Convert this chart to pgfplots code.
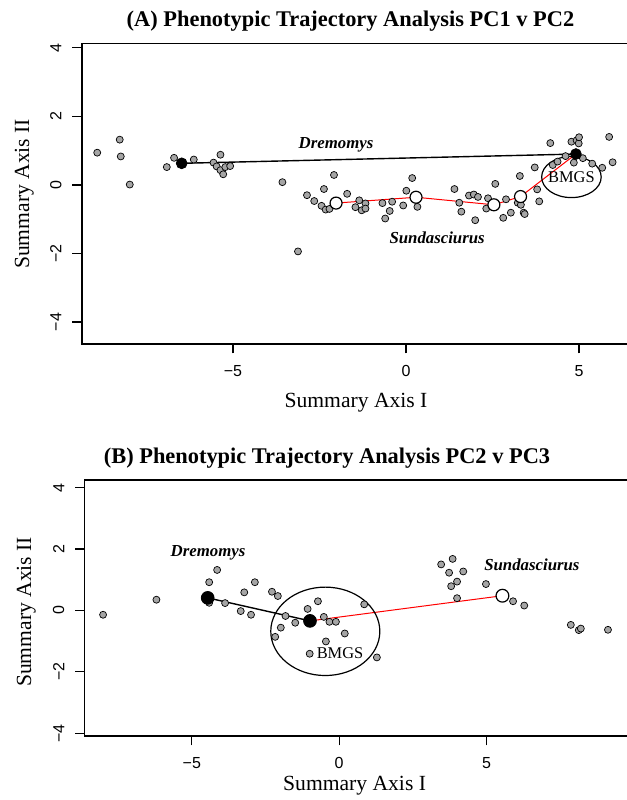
\documentclass[border=0pt]{standalone}
\usepackage{fontspec}
\setmainfont{Liberation Serif}
\setsansfont{Liberation Sans}
\usepackage{pgfplots}
\pgfplotsset{compat=1.18}
\definecolor{ptgrey}{RGB}{165,165,165}

\pgfplotsset{
  pta/.style={
    scale only axis, anchor=south west,
    tick align=outside, xtick pos=lower, ytick pos=left,
    major tick length=4.75pt,
    xtick={-5,0,5}, xticklabels={−5,0,5},
    ytick={-4,-2,0,2,4}, yticklabels={−4,−2,0,2,4},
    tick label style={font=\fontsize{8}{9}\selectfont\sffamily},
    xticklabel style={inner ysep=5.8pt},
    yticklabel style={rotate=90, anchor=south, inner ysep=5.3pt},
    axis line style={line width=0.6pt},
    every tick/.style={black, line width=0.6pt},
  },
  grp/.style={only marks, mark=*, mark size=1.75pt,
    mark options={fill=ptgrey, draw=black, line width=0.35pt}},
  blk/.style={only marks, mark=*, mark size=#1, mark options={fill=black, draw=black}},
  wht/.style={only marks, mark=*, mark size=#1, mark options={fill=white, draw=black, line width=0.6pt}},
}
\tikzset{
  spc/.style={font=\fontsize{8.4}{10}\selectfont\bfseries\itshape},
  bmgs/.style={font=\fontsize{8.2}{10}\selectfont},
}

\begin{document}
\begin{tikzpicture}
% (A) PC1 v PC2
\begin{axis}[pta, at={(41pt,228pt)}, width=274.3pt, height=150.35pt,
  xmin=-9.36, xmax=6.49, ymin=-4.64, ymax=4.13]
\addplot[grp] coordinates {
(-8.92,0.94) (-8.27,1.32) (-8.24,0.83) (-7.98,0.01) (-6.91,0.52) (-6.70,0.79)
(-6.13,0.74) (-5.56,0.65) (-5.47,0.54) (-5.36,0.88) (-5.36,0.43) (-5.28,0.31)
(-5.22,0.52) (-5.08,0.55) (-3.57,0.08) (-3.12,-1.94) (-2.86,-0.30) (-2.65,-0.47)
(-2.44,-0.61) (-2.37,-0.12) (-2.32,-0.72) (-2.21,-0.70) (-2.08,0.29) (-1.70,-0.26)
(-1.46,-0.65) (-1.35,-0.45) (-1.28,-0.74) (-1.17,-0.54) (-1.17,-0.69) (-0.68,-0.53)
(-0.60,-0.98) (-0.47,-0.76) (-0.40,-0.49) (-0.08,-0.60) (0.01,-0.17) (0.18,0.20)
(0.33,-0.64) (1.40,-0.12) (1.54,-0.52) (1.60,-0.78) (1.82,-0.31) (1.96,-0.28)
(2.00,-1.03) (2.08,-0.35) (2.37,-0.39) (2.32,-0.69) (2.58,0.03) (2.81,-0.96)
(2.89,-0.42) (3.03,-0.81) (3.23,-0.52) (3.29,0.26) (3.32,-0.58) (3.40,-0.81)
(3.43,-0.85) (3.72,0.51) (3.79,-0.13) (3.85,-0.48) (4.17,1.22) (4.24,0.58)
(4.38,0.68) (4.61,0.84) (4.78,1.26) (4.85,0.65) (4.93,1.30) (4.99,1.21)
(5.00,1.39) (5.11,0.78) (5.38,0.62) (5.67,0.50) (5.87,1.40) (5.97,0.66)
};
\addplot[black, line width=0.7pt] coordinates {(-6.48,0.63) (4.91,0.90)};
\addplot[red, line width=0.5pt] coordinates {(-2.02,-0.53) (0.29,-0.36) (2.54,-0.58) (3.31,-0.34) (4.91,0.90)};
\draw[line width=0.6pt] (axis cs:4.78,0.23) ellipse [x radius=0.86, y radius=0.60];
\addplot[blk=2.7pt] coordinates {(-6.48,0.63) (4.91,0.90)};
\addplot[wht=3pt] coordinates {(-2.02,-0.53) (0.29,-0.36) (2.54,-0.58) (3.31,-0.34)};
\node[spc] at (axis cs:-2.02,1.18) {Dremomys};
\node[spc] at (axis cs:0.90,-1.55) {Sundasciurus};
\node[bmgs] at (axis cs:4.78,0.23) {BMGS};
\end{axis}

% (B) PC2 v PC3
\begin{axis}[pta, at={(42.4pt,32pt)}, width=271.6pt, height=128pt,
  xmin=-8.63, xmax=9.80, ymin=-4.09, ymax=4.25]
\addplot[grp] coordinates {
(-8.01,-0.14) (-6.20,0.35) (-4.14,1.32) (-4.41,0.92) (-4.41,0.25) (-3.87,0.24)
(-3.34,-0.02) (-3.22,0.59) (-2.99,-0.14) (-2.86,0.92) (-2.28,0.61) (-2.08,0.47)
(-1.82,-0.18) (-1.98,-0.56) (-2.17,-0.86) (-1.49,-0.40) (-1.07,0.05) (-0.72,0.30)
(-0.52,-0.21) (-0.33,-0.37) (-0.11,-0.37) (0.19,-0.75) (-0.45,-1.01) (-1.00,-1.41)
(0.85,0.20) (1.28,-1.53)
(3.46,1.50) (3.85,1.68) (3.73,1.23) (4.21,1.27) (4.00,0.94) (3.80,0.79)
(4.00,0.40) (4.98,0.86) (5.90,0.30) (6.28,0.16) (7.86,-0.47) (8.13,-0.64)
(8.20,-0.59) (9.12,-0.63)
};
\addplot[black, line width=0.7pt] coordinates {(-4.46,0.41) (-0.99,-0.34)};
\addplot[red, line width=0.5pt] coordinates {(-0.99,-0.34) (5.54,0.48)};
\draw[line width=0.6pt] (axis cs:-0.47,-0.68) ellipse [x radius=1.85, y radius=1.44];
\addplot[blk=3.2pt] coordinates {(-4.46,0.41) (-0.99,-0.34)};
\addplot[wht=3.2pt] coordinates {(5.54,0.48)};
\node[spc] at (axis cs:-4.45,1.88) {Dremomys};
\node[spc] at (axis cs:6.54,1.50) {Sundasciurus};
\node[bmgs] at (axis cs:0.03,-1.38) {BMGS};
\end{axis}

% titles and axis labels
\node[anchor=base, font=\fontsize{11.2}{13}\selectfont\bfseries] at (175.25pt,386.5pt) {(A) Phenotypic Trajectory Analysis PC1 v PC2};
\node[anchor=base, font=\fontsize{11.2}{13}\selectfont\bfseries] at (163.5pt,168pt) {(B) Phenotypic Trajectory Analysis PC2 v PC3};
\node[anchor=base, font=\fontsize{10.8}{13}\selectfont] at (178pt,196.5pt) {Summary Axis I};
\node[anchor=base, font=\fontsize{10.8}{13}\selectfont] at (177.3pt,4.7pt) {Summary Axis I};
\node[anchor=base, rotate=90, font=\fontsize{10.8}{13}\selectfont] at (14.5pt,303pt) {Summary Axis II};
\node[anchor=base, rotate=90, font=\fontsize{10.8}{13}\selectfont] at (15.5pt,94pt) {Summary Axis II};

\pgfresetboundingbox
\useasboundingbox (0pt,0pt) rectangle (313.5pt,400pt);
\end{tikzpicture}
\end{document}
